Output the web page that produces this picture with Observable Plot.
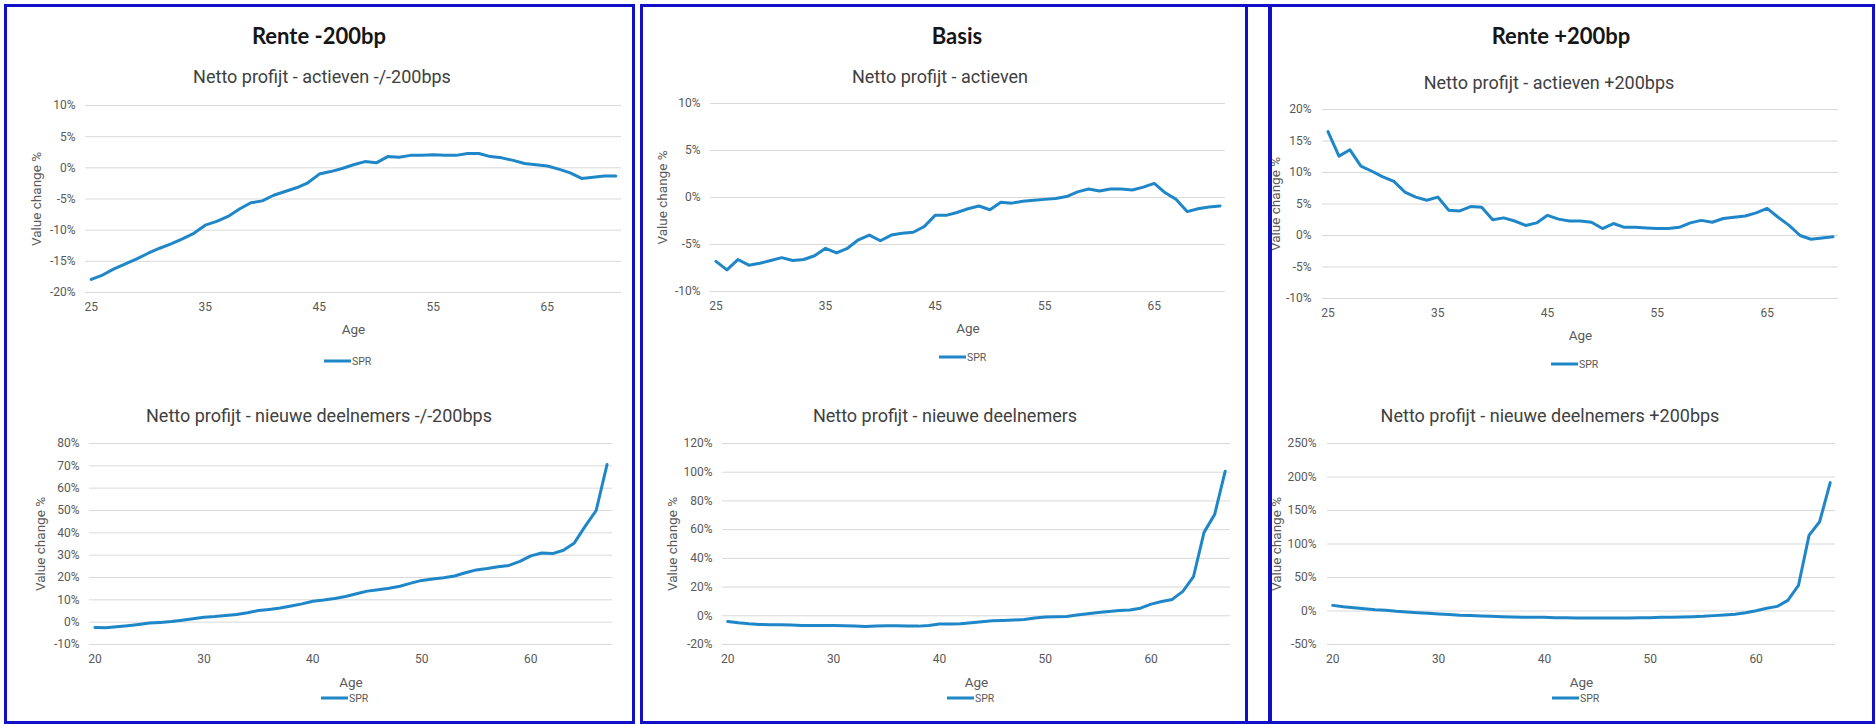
<!DOCTYPE html>
<html><head><meta charset="utf-8">
<script src="https://cdn.jsdelivr.net/npm/d3@7"></script>
<script src="https://cdn.jsdelivr.net/npm/@observablehq/plot@0.6"></script>
<style>
body{margin:0;background:#fff;}
#root{position:relative;width:1876px;height:724px;overflow:hidden;font-family:Roboto,"Liberation Sans",sans-serif;}
.abs{position:absolute;white-space:nowrap;}
.title{font-family:Lato,"Open Sans",sans-serif;font-weight:700;font-size:22px;color:#161616;transform:translate(-50%,-50%);}
.sub{font-size:18px;color:#404040;transform:translate(-50%,-50%);}
.legend{font-size:10.5px;color:#595959;display:flex;align-items:center;transform:translateY(-50%);}
.legend .sw{width:27px;height:3px;background:#1f86c8;margin-right:1px;}
.border{position:absolute;border:3px solid #1010c8;box-sizing:border-box;pointer-events:none;z-index:5;}
.vline{position:absolute;background:#1010c8;z-index:5;}
.chart{position:absolute;}
</style></head><body><div id="root"></div>
<script>
// Categories
const agesActieven = [25,26,27,28,29,30,31,32,33,34,35,36,37,38,39,40,41,42,43,44,45,46,47,48,49,50,51,52,53,54,55,56,57,58,59,60,61,62,63,64,65,66,67,68,69,70,71];
const agesNieuwe = [20,21,22,23,24,25,26,27,28,29,30,31,32,33,34,35,36,37,38,39,40,41,42,43,44,45,46,47,48,49,50,51,52,53,54,55,56,57,58,59,60,61,62,63,64,65,66,67];

// Tick labels
const xTicksActieven = [25,35,45,55,65];
const xTicksNieuwe = [20,30,40,50,60];
const yTicksMinActieven = [-20,-15,-10,-5,0,5,10];
const yTicksMinNieuwe = [-10,0,10,20,30,40,50,60,70,80];
const yTicksBasisActieven = [-10,-5,0,5,10];
const yTicksBasisNieuwe = [-20,0,20,40,60,80,100,120];
const yTicksPlusActieven = [-10,-5,0,5,10,15,20];
const yTicksPlusNieuwe = [-50,0,50,100,150,200,250];

// Series values (SPR, value change %)
const minActieven = [-17.9,-17.2,-16.2,-15.4,-14.6,-13.7,-12.9,-12.2,-11.4,-10.5,
  -9.2,-8.6,-7.8,-6.6,-5.6,-5.3,-4.4,-3.8,-3.2,-2.4,
  -1.0,-0.6,-0.1,0.5,1.0,0.8,1.8,1.7,2.0,2.0,
  2.1,2.0,2.0,2.3,2.3,1.8,1.6,1.2,0.7,0.5,
  0.3,-0.2,-0.8,-1.7,-1.5,-1.3,-1.3];
const minNieuwe = [-2.4,-2.5,-2.1,-1.6,-1.0,-0.4,-0.1,0.3,0.9,1.5,
  2.2,2.5,3.0,3.4,4.2,5.2,5.7,6.3,7.2,8.2,
  9.4,9.9,10.6,11.5,12.7,13.9,14.5,15.2,16.1,17.5,
  18.7,19.3,19.9,20.7,22.1,23.4,24.0,24.8,25.4,27.2,
  29.7,31.0,30.7,32.2,35.5,43.0,50.0,70.6];
const basisActieven = [-6.8,-7.7,-6.6,-7.2,-7.0,-6.7,-6.4,-6.7,-6.6,-6.2,
  -5.4,-5.9,-5.4,-4.5,-4.0,-4.6,-4.0,-3.8,-3.7,-3.1,
  -1.9,-1.9,-1.6,-1.2,-0.9,-1.3,-0.5,-0.6,-0.4,-0.3,
  -0.2,-0.1,0.1,0.6,0.9,0.7,0.9,0.9,0.8,1.1,
  1.5,0.5,-0.2,-1.5,-1.2,-1.0,-0.9];
const basisNieuwe = [-4.0,-4.9,-5.6,-6.0,-6.3,-6.3,-6.5,-6.7,-6.7,-6.7,
  -6.7,-7.0,-7.2,-7.4,-7.2,-7.0,-7.0,-7.2,-7.2,-6.7,
  -5.8,-5.8,-5.6,-4.9,-4.2,-3.5,-3.3,-3.0,-2.6,-1.6,
  -0.9,-0.7,-0.5,0.5,1.4,2.3,3.0,3.7,4.0,5.3,
  8.1,10.0,11.4,17.0,27.2,58.1,70.5,100.7];
const plusActieven = [16.5,12.6,13.6,11.0,10.2,9.3,8.6,6.9,6.1,5.6,
  6.1,4.0,3.9,4.6,4.5,2.5,2.8,2.3,1.6,2.0,
  3.2,2.6,2.3,2.3,2.1,1.1,1.9,1.3,1.3,1.2,
  1.1,1.1,1.3,2.0,2.4,2.1,2.7,2.9,3.1,3.6,
  4.3,2.9,1.6,0.0,-0.6,-0.4,-0.2];
const plusNieuwe = [8.4,6.4,5.0,3.5,2.0,1.0,-0.5,-1.5,-2.5,-3.5,
  -4.5,-5.4,-6.4,-6.9,-7.4,-7.9,-8.4,-8.9,-9.4,-9.4,
  -9.4,-9.9,-9.9,-10.4,-10.4,-10.4,-10.4,-10.4,-10.4,-9.9,
  -9.9,-9.4,-9.4,-8.9,-8.4,-7.9,-6.9,-5.9,-5.0,-2.5,
  0.5,4.0,6.9,15.8,38.1,112.9,133.2,191.6];

const seriesName = "SPR";
const LINE = "#1f86c8";
const root = document.getElementById("root");

function addDiv(cls, text, left, top) {
  const d = document.createElement("div");
  d.className = "abs " + cls;
  d.textContent = text;
  d.style.left = left + "px";
  d.style.top = top + "px";
  root.appendChild(d);
  return d;
}
function addLegend(left, top) {
  const d = document.createElement("div");
  d.className = "abs legend";
  d.style.left = left + "px";
  d.style.top = top + "px";
  const sw = document.createElement("span"); sw.className = "sw"; sw.style.background = LINE;
  const t = document.createElement("span"); t.textContent = seriesName;
  d.appendChild(sw); d.appendChild(t);
  root.appendChild(d);
}

function chart(c) {
  const {x0, x1, y0, y1} = c.frame;
  const {left, top, width, height} = c.box;
  const data = c.ages.map((a, i) => ({age: a, value: c.values[i]}));
  const svg = Plot.plot({
    width, height,
    marginLeft: x0 - left, marginRight: left + width - x1,
    marginTop: y0 - top, marginBottom: top + height - y1,
    style: {fontFamily: "Roboto, 'Liberation Sans', sans-serif", fontSize: "12px", color: "#595959", overflow: "visible", background: "transparent"},
    x: {domain: [c.ages[0] - 0.5, c.ages[c.ages.length - 1] + 0.5]},
    y: {domain: [c.yTicks[0], c.yTicks[c.yTicks.length - 1]]},
    marks: [
      Plot.gridY(c.yTicks, {stroke: "#d9d9d9", strokeOpacity: 1, strokeWidth: 1}),
      Plot.axisY(c.yTicks, {tickSize: 0, tickPadding: c.yPad ?? 10, tickFormat: d => d + "%", label: null, fontSize: 12}),
      Plot.axisY([], {tickSize: 0, label: "Value change %", labelAnchor: "center", labelArrow: "none", labelOffset: c.yLabelOffset, fontSize: 13.5}),
      Plot.axisX(c.xTicks, {tickSize: 0, tickPadding: 10, tickFormat: d => String(d), label: null, fontSize: 12}),
      Plot.axisX([], {tickSize: 0, label: "Age", labelAnchor: "center", labelArrow: "none", labelOffset: c.xLabelOffset, fontSize: 13.5}),
      Plot.line(data, {x: "age", y: "value", stroke: LINE, strokeWidth: 3, strokeLinejoin: "round", strokeLinecap: "round"})
    ]
  });
  const wrap = document.createElement("div");
  wrap.className = "chart";
  wrap.style.left = left + "px";
  wrap.style.top = top + "px";
  wrap.appendChild(svg);
  root.appendChild(wrap);
}

// Titles
addDiv("title", "Rente -200bp", 319, 35);
addDiv("title", "Basis", 957, 35);
addDiv("title", "Rente +200bp", 1561, 35);

// Subtitles
addDiv("sub", "Netto profijt - actieven -/-200bps", 322, 76);
addDiv("sub", "Netto profijt - nieuwe deelnemers -/-200bps", 319, 415);
addDiv("sub", "Netto profijt - actieven", 940, 76);
addDiv("sub", "Netto profijt - nieuwe deelnemers", 945, 415);
addDiv("sub", "Netto profijt - actieven +200bps", 1549, 82);
addDiv("sub", "Netto profijt - nieuwe deelnemers +200bps", 1550, 415);

chart({ages: agesActieven, values: minActieven, xTicks: xTicksActieven, yTicks: yTicksMinActieven,
  frame: {x0: 85, x1: 621, y0: 105, y1: 292}, box: {left: 8, top: 90, width: 620, height: 280}, yLabelOffset: 54, xLabelOffset: 41});
chart({ages: agesNieuwe, values: minNieuwe, xTicks: xTicksNieuwe, yTicks: yTicksMinNieuwe,
  frame: {x0: 89, x1: 612, y0: 443, y1: 644}, box: {left: 8, top: 430, width: 620, height: 280}, yLabelOffset: 54, xLabelOffset: 42});
chart({ages: agesActieven, values: basisActieven, xTicks: xTicksActieven, yTicks: yTicksBasisActieven,
  frame: {x0: 710, x1: 1225, y0: 103, y1: 291}, box: {left: 645, top: 90, width: 600, height: 280}, yLabelOffset: 53, xLabelOffset: 41});
chart({ages: agesNieuwe, values: basisNieuwe, xTicks: xTicksNieuwe, yTicks: yTicksBasisNieuwe,
  frame: {x0: 722, x1: 1230, y0: 443, y1: 644}, box: {left: 645, top: 430, width: 600, height: 280}, yLabelOffset: 55, xLabelOffset: 42});
chart({ages: agesActieven, values: plusActieven, xTicks: xTicksActieven, yTicks: yTicksPlusActieven,
  frame: {x0: 1322, x1: 1838, y0: 109, y1: 298}, box: {left: 1272, top: 90, width: 598, height: 280}, yLabelOffset: 52, xLabelOffset: 41, yPad: 11});
chart({ages: agesNieuwe, values: plusNieuwe, xTicks: xTicksNieuwe, yTicks: yTicksPlusNieuwe,
  frame: {x0: 1327, x1: 1835, y0: 443, y1: 644}, box: {left: 1272, top: 430, width: 598, height: 280}, yLabelOffset: 56, xLabelOffset: 42, yPad: 11});

// Legends
addLegend(324, 361);
addLegend(321, 698);
addLegend(939, 357);
addLegend(947, 698);
addLegend(1551, 364);
addLegend(1552, 698);

// Panel borders
function border(l, t, w, h) {
  const d = document.createElement("div");
  d.className = "border";
  Object.assign(d.style, {left: l + "px", top: t + "px", width: w + "px", height: h + "px"});
  root.appendChild(d);
}
border(4, 4, 631, 720);
border(640, 4, 631, 720);
border(1269, 4, 606, 720);
const v = document.createElement("div");
v.className = "vline";
Object.assign(v.style, {left: "1245px", top: "4px", width: "3px", height: "720px"});
root.appendChild(v);
</script></body></html>
